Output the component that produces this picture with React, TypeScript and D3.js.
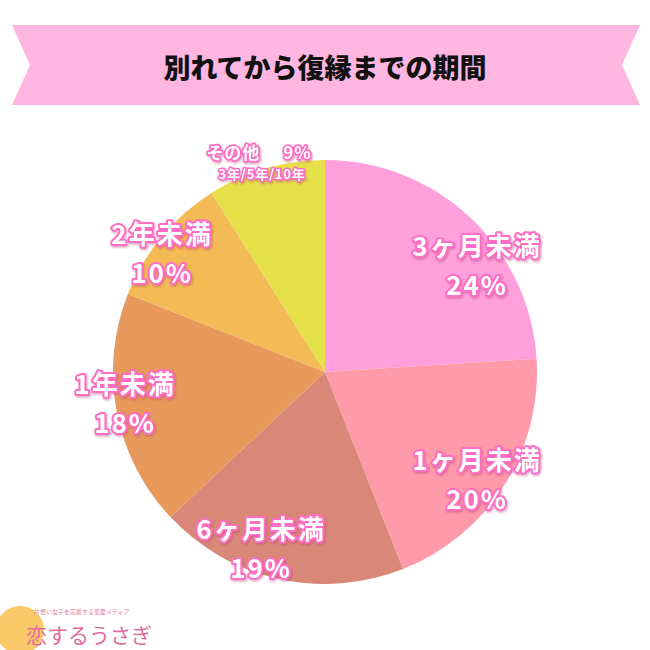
import React from "react";
import * as d3 from "d3";

const title = "別れてから復縁までの期間";
const categories = ["3ヶ月未満", "1ヶ月未満", "6ヶ月未満", "1年未満", "2年未満", "その他"];
const values = [24, 20, 19, 18, 10, 9];
const percentLabels = ["24%", "20%", "19%", "18%", "10%", "9%"];
const otherNote = "3年/5年/10年";
const colors = ["#ff9fdc", "#ff9aaa", "#d98878", "#e8995c", "#f3bb55", "#e6e04a"];
// label placement offsets from pie centre (layout, not data)
const labelOffsets: [number, number][] = [
  [152, -128],
  [152, 86],
  [-64, 155],
  [-200, 10],
  [-163, -140],
  [-66, -221],
];

const W = 650;
const H = 650;
const cx = 325;
const cy = 372;
const R = 212;

export default function App() {
  const pie = d3.pie<number>().value((d) => d).sort(null);
  const arcs = pie(values);
  const arc = d3.arc<d3.PieArcDatum<number>>().innerRadius(0).outerRadius(R);

  const labelStyle: React.CSSProperties = {
    fontFamily: "'Noto Sans CJK JP', sans-serif",
    fontWeight: 700,
    paintOrder: "stroke",
  };

  const banner = `M12,25 L640,25 L622,65 L640,105 L12,105 L30,65 Z`;

  return (
    <svg
      width={W}
      height={H}
      viewBox={`0 0 ${W} ${H}`}
      style={{ position: "absolute", left: 0, top: 0, background: "#ffffff" }}
    >
      <defs>
        <filter id="sh" x="-20%" y="-20%" width="140%" height="140%">
          <feDropShadow dx="1" dy="1.5" stdDeviation="0.8" floodColor="#b0306f" floodOpacity="0.45" />
        </filter>
      </defs>
      <path d={banner} fill="#ffb6e1" />
      <text
        x={cx}
        y={66}
        textAnchor="middle"
        dominantBaseline="central"
        fontFamily="'Noto Sans CJK JP', sans-serif"
        fontWeight={900}
        fontSize={27}
        fill="#111"
      >
        {title}
      </text>

      <g transform={`translate(${cx},${cy})`}>
        {arcs.map((a, i) => (
          <path key={i} d={arc(a) || ""} fill={colors[i]} />
        ))}
        {arcs.map((a, i) => {
          const [dx, dy] = labelOffsets[i];
          if (i === arcs.length - 1) {
            return (
              <g key={"l" + i} filter="url(#sh)" style={labelStyle}>
                <text
                  x={dx}
                  y={dy}
                  textAnchor="middle"
                  dominantBaseline="central"
                  fontSize={17}
                  letterSpacing={1}
                  fill="#fff"
                  stroke="#ff6ec4"
                  strokeWidth={3.5}
                  strokeLinejoin="round"
                >
                  {categories[i] + "\u3000 " + percentLabels[i]}
                </text>
                <text
                  x={dx + 3}
                  y={dy + 22}
                  textAnchor="middle"
                  dominantBaseline="central"
                  fontSize={13}
                  letterSpacing={0.8}
                  fill="#fff"
                  stroke="#ff6ec4"
                  strokeWidth={3}
                  strokeLinejoin="round"
                >
                  {otherNote}
                </text>
              </g>
            );
          }
          return (
            <g key={"l" + i} filter="url(#sh)" style={labelStyle}>
              <text
                x={dx}
                y={dy}
                textAnchor="middle"
                dominantBaseline="central"
                fontSize={26}
                letterSpacing={2}
                fill="#fff"
                stroke="#ff6ec4"
                strokeWidth={4}
                strokeLinejoin="round"
              >
                {categories[i]}
              </text>
              <text
                x={dx}
                y={dy + 39}
                textAnchor="middle"
                dominantBaseline="central"
                fontSize={26}
                letterSpacing={2}
                fill="#fff"
                stroke="#ff6ec4"
                strokeWidth={4}
                strokeLinejoin="round"
              >
                {percentLabels[i]}
              </text>
            </g>
          );
        })}
      </g>

      <g>
        <circle cx={20} cy={630} r={24} fill="#f9c04e" opacity={0.85} />
        <text x={34} y={614} fontFamily="'Noto Sans CJK JP', sans-serif" fontSize={6} fill="#e07aa8">
          片想い女子を応援する恋愛メディア
        </text>
        <text x={26} y={643} fontFamily="'Noto Sans CJK JP', sans-serif" fontSize={21} fill="#e06a9e">
          恋するうさぎ
        </text>
      </g>
    </svg>
  );
}
